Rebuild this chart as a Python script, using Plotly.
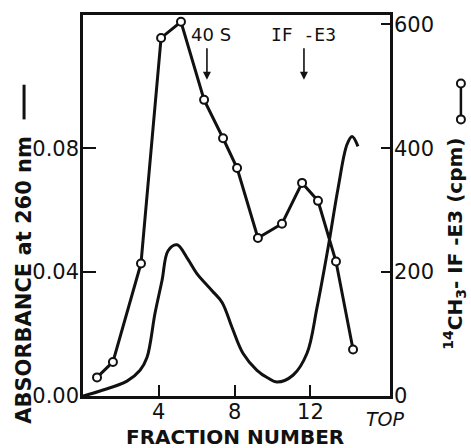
import plotly.graph_objects as go

# Absorbance at 260 nm (continuous trace)
abs_x = [0, 0.90, 2.32, 3.01, 3.38, 3.80, 4.17, 4.49, 4.96, 5.49, 6.01, 6.81, 7.34,
         7.86, 8.44, 9.18, 9.76, 10.24, 11.08, 11.82, 12.35, 12.93, 13.46, 13.93, 14.20, 14.51]
abs_y = [0.0, 0.0016, 0.0048, 0.0083, 0.0125, 0.0267, 0.0373, 0.0469, 0.0488, 0.0446,
         0.0395, 0.0340, 0.0302, 0.0222, 0.0138, 0.0083, 0.0058, 0.0045, 0.0067, 0.0138,
         0.0286, 0.0478, 0.0671, 0.0812, 0.0838, 0.0806]

# 14CH3-IF-E3 radioactivity (cpm)
cpm_x = [0.74, 1.58, 3.06, 4.12, 5.17, 6.39, 7.39, 8.13, 9.23, 10.50, 11.56, 12.40, 13.35, 14.25]
cpm_y = [30, 55, 214, 578, 604, 478, 416, 368, 255, 278, 344, 315, 217, 75]

x_ticks = [4, 8, 12]
left_ticks = [0.0, 0.04, 0.08]
left_labels = ["0.00", "0.04", "0.08"]
right_ticks = [0, 200, 400, 600]
right_labels = ["0", "200", "400", "600"]

FONT = "DejaVu Sans"
BLACK = "#111111"

fig = go.Figure()
fig.add_trace(go.Scatter(x=abs_x, y=abs_y, mode="lines",
                         line=dict(color=BLACK, width=3, shape="spline", smoothing=1.0),
                         yaxis="y", hoverinfo="skip"))
fig.add_trace(go.Scatter(x=cpm_x, y=cpm_y, mode="lines+markers",
                         line=dict(color=BLACK, width=3),
                         marker=dict(symbol="circle", size=8, color="white",
                                     line=dict(color=BLACK, width=2)),
                         yaxis="y2", hoverinfo="skip"))

fig.update_layout(
    width=471, height=448,
    margin=dict(l=83, r=81, t=13, b=52),
    paper_bgcolor="white", plot_bgcolor="white",
    showlegend=False,
    font=dict(family=FONT, color=BLACK, size=21),
    xaxis=dict(range=[0, 16.2], tickvals=x_ticks, ticks="inside", ticklen=11,
               tickwidth=2, tickcolor=BLACK, showline=True, linewidth=2.5,
               linecolor=BLACK, mirror=True, showgrid=False, zeroline=False,
               ticklabelstandoff=-5,
               tickfont=dict(size=21, family=FONT)),
    yaxis=dict(range=[0, 0.123], tickvals=left_ticks, ticktext=left_labels,
               ticks="inside", ticklen=13, tickwidth=2, tickcolor=BLACK,
               showline=True, linewidth=2.5, linecolor=BLACK, showgrid=False,
               zeroline=False, ticklabelstandoff=-3,
               tickfont=dict(size=21, family=FONT)),
    yaxis2=dict(range=[0, 615], tickvals=right_ticks, ticktext=right_labels,
                overlaying="y", side="right", ticks="inside", ticklen=9,
                tickwidth=2, tickcolor=BLACK, showline=True, linewidth=2.5,
                linecolor=BLACK, showgrid=False, zeroline=False,
                ticklabelstandoff=-3,
                tickfont=dict(size=21, family=FONT)),
)

ann = []
# axis titles
ann.append(dict(text="<b>FRACTION NUMBER</b>", x=0.495, y=-0.107, xref="paper", yref="paper",
                showarrow=False, font=dict(size=20, family=FONT), xanchor="center", yanchor="middle"))
ann.append(dict(text="<i>TOP</i>", x=0.985, y=-0.06, xref="paper", yref="paper",
                showarrow=False, font=dict(size=19, family=FONT), xanchor="center", yanchor="middle"))
ann.append(dict(text="<b>ABSORBANCE at 260 nm</b>", x=-0.192, y=0.305, xref="paper", yref="paper",
                showarrow=False, textangle=-90, font=dict(size=21, family=FONT),
                xanchor="center", yanchor="middle"))
ann.append(dict(text="<b><sup>14</sup>CH<sub>3</sub>- IF -E3 (cpm)</b>", x=1.212, y=0.40,
                xref="paper", yref="paper", showarrow=False, textangle=-90,
                font=dict(size=20, family=FONT), xanchor="center", yanchor="middle"))
# peak markers
ann.append(dict(text="40 S", x=6.75, y=0.1166, xref="x", yref="y", showarrow=False,
                font=dict(size=18, family=FONT), xanchor="center", yanchor="middle"))
ann.append(dict(text="", x=6.54, y=0.1021, xref="x", yref="y", showarrow=True,
                ax=0, ay=-33, arrowhead=2, arrowsize=1, arrowwidth=1.6, arrowcolor=BLACK))
ann.append(dict(text="IF -E3", x=11.66, y=0.1166, xref="x", yref="y", showarrow=False,
                font=dict(size=18, family="DejaVu Sans Mono"), xanchor="center", yanchor="middle"))
ann.append(dict(text="", x=11.66, y=0.1021, xref="x", yref="y", showarrow=True,
                ax=0, ay=-33, arrowhead=2, arrowsize=1, arrowwidth=1.6, arrowcolor=BLACK))
fig.update_layout(annotations=ann)

shapes = []
# legend glyph for absorbance
shapes.append(dict(type="line", xref="paper", yref="paper", x0=-0.192, x1=-0.192,
                   y0=0.726, y1=0.817, line=dict(color=BLACK, width=3)))
# legend glyph for cpm
shapes.append(dict(type="line", xref="paper", yref="paper", x0=1.231, x1=1.231,
                   y0=0.726, y1=0.820, line=dict(color=BLACK, width=2.5)))
for yy in (0.726, 0.820):
    shapes.append(dict(type="circle", xref="paper", yref="paper", xsizemode="pixel",
                       ysizemode="pixel", xanchor=1.231, yanchor=yy, x0=-4, x1=4, y0=-4, y1=4,
                       line=dict(color=BLACK, width=2), fillcolor="white"))
fig.update_layout(shapes=shapes)

fig.write_html("out.html", config={"displayModeBar": False},
               post_script="document.body.style.margin='0px';document.body.style.overflow='hidden';")
